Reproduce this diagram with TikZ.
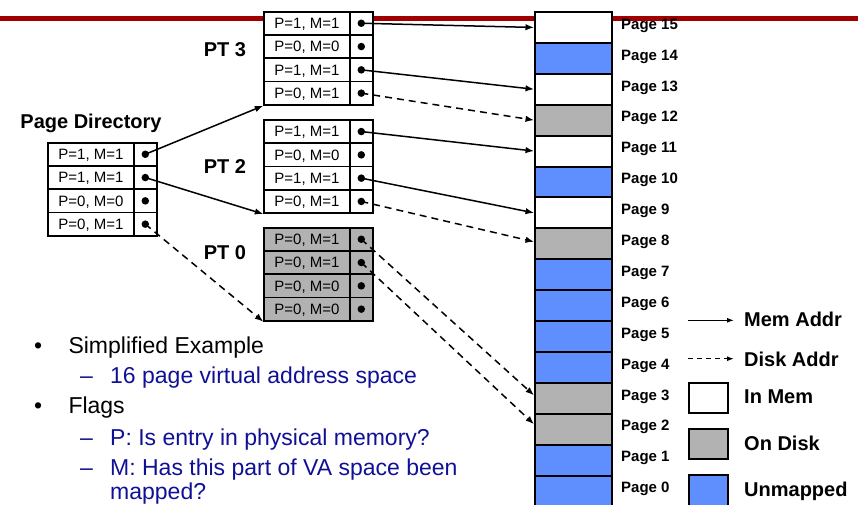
\documentclass[tikz,border=0pt]{standalone}
\usepackage{fontspec}
\setmainfont{Liberation Sans}
\usetikzlibrary{arrows.meta}
\definecolor{hdrred}{RGB}{160,0,0}
\definecolor{unmap}{RGB}{95,142,255}
\definecolor{disk}{RGB}{178,178,178}
\definecolor{txtblue}{RGB}{16,16,150}
\newcommand\ptab[5]{%
  \foreach \t [count=\i from 0] in {#5} {
    \node[cellt, fill=#4] (#1-t-\i) at (#2, {#3+\i*23.3}) {\t};
    \node[cellp, fill=#4] (#1-p-\i) at (#2+85.6, {#3+\i*23.3}) {};
    \node[dotn] (#1-d-\i) at (#1-p-\i.center) {};
  }%
}
\begin{document}
\begin{tikzpicture}[x=1pt,y=-1pt,
  cellt/.style={draw, line width=1.8pt, minimum width=85.6pt, minimum height=23.3pt, inner sep=0pt, anchor=north west, font=\fontsize{15}{18}\selectfont, text height=10.7pt, text depth=0pt},
  cellp/.style={draw, line width=1.8pt, minimum width=23pt, minimum height=23.3pt, inner sep=0pt, anchor=north west},
  dotn/.style={circle, fill, inner sep=0pt, minimum size=7.5pt},
  memc/.style={draw, line width=2pt, minimum width=77pt, minimum height=30.9pt, inner sep=0pt, anchor=north west},
  plabel/.style={anchor=base west, inner sep=0pt, font=\fontsize{15}{18}\selectfont\bfseries},
  ptitle/.style={anchor=base, inner sep=0pt, font=\fontsize{20}{24}\selectfont\bfseries},
  legtxt/.style={anchor=base west, inner sep=0pt, font=\fontsize{20}{24}\selectfont\bfseries},
  legbox/.style={draw, line width=2pt, minimum width=39.3pt, minimum height=30.6pt, inner sep=0pt, anchor=north west},
  memarrow/.style={line width=1.5pt, -{Latex[length=8.5pt,width=6.5pt]}},
  diskarrow/.style={memarrow, dash pattern=on 7pt off 5pt},
  bul/.style={anchor=base west, inner sep=0pt, font=\fontsize{23}{27}\selectfont},
  subbul/.style={bul, text=txtblue},
]
\useasboundingbox (0,0) rectangle (867,504);
% header line
\coordinate (rl1) at (0,18.5);
\coordinate (rl2) at (858,18.5);
\draw[hdrred, line width=5pt] (rl1) -- (rl2);

% tables
\ptab{pd}{47.3}{141.7}{white}{{P=1, M=1},{P=1, M=1},{P=0, M=0},{P=0, M=1}}
\ptab{pt3}{263.3}{10.7}{white}{{P=1, M=1},{P=0, M=0},{P=1, M=1},{P=0, M=1}}
\ptab{pt2}{263.3}{119}{white}{{P=1, M=1},{P=0, M=0},{P=1, M=1},{P=0, M=1}}
\ptab{pt0}{263.3}{226.7}{disk}{{P=0, M=1},{P=0, M=1},{P=0, M=0},{P=0, M=0}}

\node[ptitle] (tpd) at (91,128.3) {Page Directory};
\node[ptitle] (tpt3) at (225,56.7) {PT 3};
\node[ptitle] (tpt2) at (225,173.3) {PT 2};
\node[ptitle] (tpt0) at (225,259) {PT 0};

% memory column
\foreach \k/\c in {15/white,14/unmap,13/white,12/disk,11/white,10/unmap,9/white,8/disk,7/unmap,6/unmap,5/unmap,4/unmap,3/disk,2/disk,1/unmap,0/unmap} {
  \node[memc, fill=\c] (pg-\k) at (534, {11+(15-\k)*30.9}) {};
  \node[plabel] (lb-\k) at (621, {11+(15-\k)*30.9+18.2}) {Page \k};
}

% connectors
\draw[memarrow] (pt3-d-0.center) -- (pg-15.west);
\draw[memarrow] (pt3-d-2.center) -- (pg-13.west);
\draw[diskarrow] (pt3-d-3.center) -- (pg-12.west);
\draw[memarrow] (pt2-d-0.center) -- (pg-11.west);
\draw[memarrow] (pt2-d-2.center) -- (pg-9.west);
\draw[diskarrow] (pt2-d-3.center) -- ([yshift=2pt]pg-8.west);
\draw[diskarrow] (pt0-d-0.center) -- ([yshift=3pt]pg-3.west);
\draw[diskarrow] (pt0-d-1.center) -- ([yshift=5pt]pg-2.west);
\draw[memarrow] (pd-d-0.center) -- (pt3-t-3.south west);
\draw[memarrow] (pd-d-1.center) -- (pt2-t-3.south west);
\draw[diskarrow] (pd-d-3.center) -- (pt0-t-3.south west);

% legend
\coordinate (lm1) at (688,320.3);
\coordinate (lm2) at (734,320.3);
\draw[line width=1.2pt, -{Latex[length=7pt,width=5pt]}] (lm1) -- (lm2);
\node[legtxt] (lmt) at (744,326.7) {Mem Addr};
\coordinate (ld1) at (688,358.7);
\coordinate (ld2) at (734,358.7);
\draw[line width=1.2pt, dash pattern=on 5pt off 4pt, -{Latex[length=7pt,width=5pt]}] (ld1) -- (ld2);
\node[legtxt] (ldt) at (744,366) {Disk Addr};
\node[legbox, fill=white] (lgin) at (688,381.7) {};
\node[legtxt] (lgint) at (744,403.3) {In Mem};
\node[legbox, fill=disk] (lgdk) at (688,427.7) {};
\node[legtxt] (lgdkt) at (744,450.7) {On Disk};
\node[legbox, fill=unmap] (lgun) at (688,474.3) {};
\node[legtxt] (lgunt) at (744,496) {Unmapped};

% bullets
\node[bul] (b1) at (34,353) {•};
\node[bul] (t1) at (68.3,353) {Simplified Example};
\node[subbul] (d1) at (80,383) {–};
\node[subbul] (t2) at (110,383) {16 page virtual address space};
\node[bul] (b2) at (34,413) {•};
\node[bul] (t3) at (68.3,413) {Flags};
\node[subbul] (d2) at (80,445) {–};
\node[subbul] (t4) at (110,445) {P: Is entry in physical memory?};
\node[subbul] (d3) at (80,475) {–};
\node[subbul] (t5) at (110,475) {M: Has this part of VA space been};
\node[subbul] (t6) at (110,499) {mapped?};
\end{tikzpicture}
\end{document}
